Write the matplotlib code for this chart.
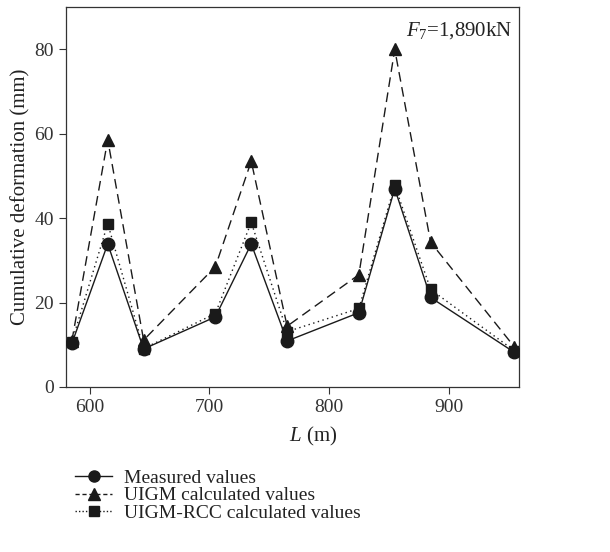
import numpy as np
import matplotlib.pyplot as plt
from matplotlib.lines import Line2D

L = [585, 615, 645, 705, 735, 765, 825, 855, 885, 955]
measured = [10.3, 33.9, 9.0, 16.6, 33.9, 10.9, 17.6, 47.0, 21.2, 8.2]
uigm = [10.9, 58.6, 11.1, 28.5, 53.5, 14.4, 26.6, 80.0, 34.3, 9.5]
uigm_rcc = [10.7, 38.7, 9.1, 17.4, 39.0, 13.1, 18.6, 47.8, 23.1, 8.6]

plt.rcParams['font.family'] = ['Liberation Serif', 'DejaVu Serif']
plt.rcParams['mathtext.fontset'] = 'custom'
plt.rcParams['mathtext.it'] = 'Liberation Serif:italic'
plt.rcParams['mathtext.rm'] = 'Liberation Serif'

col = '#1a1a1a'
fig = plt.figure(figsize=(6.1, 5.52), dpi=100)
ax = fig.add_axes([0.108, 0.299, 0.743, 0.688])

ax.plot(L, measured, '-', color=col, lw=1.0, marker='o', ms=9, zorder=3)
ax.plot(L, uigm, color=col, lw=1.0, ls=(0, (7, 4)), marker='^', ms=9, zorder=2)
ax.plot(L, uigm_rcc, color=col, lw=1.0, ls=(0, (1, 2.5)), marker='s', ms=7.5, zorder=2)

ax.set_xlim(580, 959)
ax.set_ylim(0, 90)
ax.set_xticks([600, 700, 800, 900])
ax.set_yticks([0, 20, 40, 60, 80])
ax.tick_params(labelsize=14, colors='#333333', length=5, width=0.8)
for s in ax.spines.values():
    s.set_color('#333333')
    s.set_linewidth(0.9)

ax.set_xlabel(r'$\mathit{L}$ (m)', fontsize=15, color='#222222', labelpad=7)
ax.xaxis.set_label_coords(0.545, -0.1)
ax.set_ylabel('Cumulative deformation (mm)', fontsize=15, color='#222222')
ax.yaxis.set_label_coords(-0.078, 0.5)
ax.text(0.985, 0.965, r'$\mathit{F}_7$=1,890kN', transform=ax.transAxes,
        ha='right', va='top', fontsize=15, color='#222222')

handles = [
    Line2D([], [], color=col, lw=1.0, marker='o', ms=8),
    Line2D([], [], color=col, lw=1.0, ls=(0, (3, 2)), marker='^', ms=8),
    Line2D([], [], color=col, lw=1.0, ls=(0, (1, 1.5)), marker='s', ms=7),
]
labels = ['Measured values', 'UIGM calculated values', 'UIGM-RCC calculated values']
fig.legend(handles, labels, loc='upper left', bbox_to_anchor=(0.123, 0.15),
           frameon=False, fontsize=14, handlelength=1.9, handletextpad=0.6,
           labelspacing=0.0, borderpad=0, borderaxespad=0, labelcolor='#222222')

fig.savefig('out.png', dpi=100)
